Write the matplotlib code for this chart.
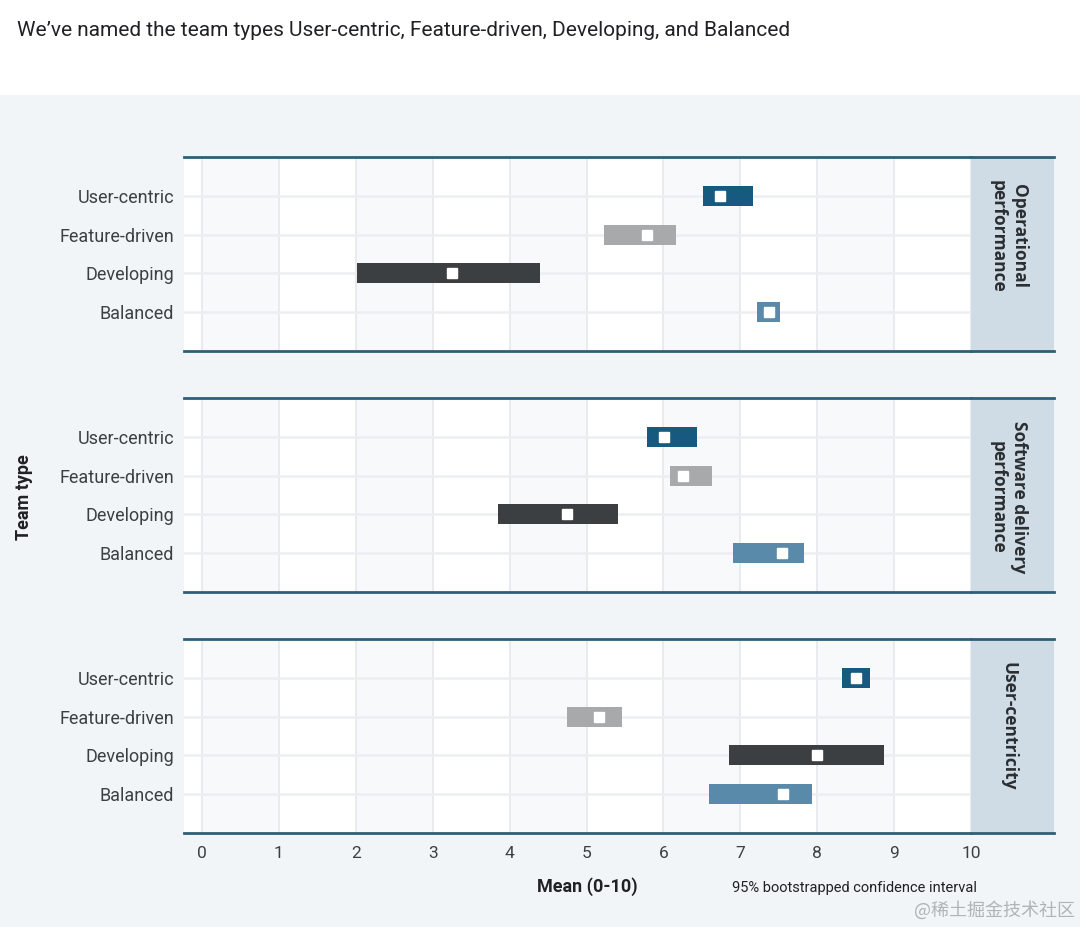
import matplotlib
matplotlib.use("Agg")
import matplotlib.pyplot as plt
from matplotlib.patches import Rectangle

plt.rcParams['font.family'] = ['Roboto', 'DejaVu Sans']

# ---- data ----
team_types = ["User-centric", "Feature-driven", "Developing", "Balanced"]
panels = ["Operational\nperformance", "Software delivery\nperformance", "User-centricity"]

op_low  = [6.51, 5.23, 2.01, 7.22]
op_high = [7.16, 6.16, 4.40, 7.52]
op_mean = [6.73, 5.79, 3.25, 7.37]

sd_low  = [5.79, 6.08, 3.85, 6.91]
sd_high = [6.44, 6.63, 5.41, 7.83]
sd_mean = [6.01, 6.26, 4.75, 7.54]

uc_low  = [8.32, 4.75, 6.85, 6.59]
uc_high = [8.69, 5.46, 8.87, 7.93]
uc_mean = [8.51, 5.16, 8.00, 7.55]

lows = [op_low, sd_low, uc_low]
highs = [op_high, sd_high, uc_high]
means = [op_mean, sd_mean, uc_mean]

x_ticks = list(range(0, 11))
colors = ["#175a80", "#a7a9ab", "#3c3f41", "#5a8aaa"]

W, H = 1080, 927
fig = plt.figure(figsize=(W / 100, H / 100), dpi=100)
fig.patch.set_facecolor("white")

# light background block
bg = fig.add_axes([0, 0, 1, 1 - 95 / H])
bg.set_facecolor("#f1f5f8")
bg.set_xticks([]); bg.set_yticks([])
for s in bg.spines.values():
    s.set_visible(False)
bg.set_zorder(-10)

fig.text(17 / W, 1 - 31 / H, "We\u2019ve named the team types User-centric, Feature-driven, Developing, and Balanced",
         fontsize=15, color="#202124", va="center", ha="left")

left_px, data_right_px, strip_right_px = 184, 971, 1054
panel_tops = [157, 398, 639]
panel_h = 194
spine_col = "#2f5f78"

for i in range(3):
    top = panel_tops[i]
    bottom_frac = 1 - (top + panel_h) / H
    ax = fig.add_axes([left_px / W, bottom_frac, (data_right_px - left_px) / W, panel_h / H])
    ax.set_xlim(-18 / 76.9, 10)
    ax.set_ylim(5, 0)
    ax.set_facecolor("white")
    # alternating column shading
    for c in range(0, 10, 2):
        ax.axvspan(c, c + 1, color="#f8f9fb", zorder=0, lw=0)
    for xv in x_ticks:
        ax.axvline(xv, color="#e6e8ec", lw=1.2, zorder=1)
    for yv in range(1, 5):
        ax.axhline(yv, color="#eceef1", lw=1.8, zorder=1)
    bar_h = 0.52
    for j, name in enumerate(team_types):
        y = j + 1
        ax.add_patch(Rectangle((lows[i][j], y - bar_h / 2), highs[i][j] - lows[i][j], bar_h,
                               facecolor=colors[j], edgecolor="none", zorder=3))
        ax.plot([means[i][j]], [y], marker="s", ms=7.2, mfc="white", mec="white", zorder=4)
    ax.set_yticks(range(1, 5))
    ax.set_yticklabels(team_types, fontsize=13, color="#3c4043")
    ax.tick_params(axis="y", length=0, pad=7)
    for s in ["left", "right"]:
        ax.spines[s].set_visible(False)
    for s in ["top", "bottom"]:
        ax.spines[s].set_color(spine_col)
        ax.spines[s].set_linewidth(2)
    if i == 2:
        ax.set_xticks(x_ticks)
        ax.set_xticklabels([str(t) for t in x_ticks], fontsize=12.5, color="#3c4043")
        ax.tick_params(axis="x", length=0, pad=9)
    else:
        ax.set_xticks([])

    # strip
    sax = fig.add_axes([data_right_px / W, bottom_frac, (strip_right_px - data_right_px) / W, panel_h / H])
    sax.set_facecolor("#cfdce6")
    sax.set_xticks([]); sax.set_yticks([])
    for s in ["left", "right"]:
        sax.spines[s].set_visible(False)
    for s in ["top", "bottom"]:
        sax.spines[s].set_color(spine_col)
        sax.spines[s].set_linewidth(2)
    sax.text(0.45, 1 - 23 / panel_h, panels[i], rotation=-90, ha="center", va="top", fontsize=12.5,
             fontweight="bold", color="#2b2e31", transform=sax.transAxes,
             linespacing=1.3, family=["Open Sans", "DejaVu Sans"])

fig.text(24 / W, 1 - 497 / H, "Team type", rotation=90, fontsize=13, fontweight="bold",
         color="#202124", ha="center", va="center")
fig.text(587 / W, 1 - 887 / H, "Mean (0-10)", fontsize=13, fontweight="bold",
         color="#202124", ha="center", va="center")
fig.text(732 / W, 1 - 888 / H, "95% bootstrapped confidence interval", fontsize=10.5,
         color="#202124", ha="left", va="center")
fig.text(1075 / W, 1 - 910 / H, "@稀土掘金技术社区", fontsize=13, color="#b0b4b8",
         ha="right", va="center", family=["Noto Sans CJK SC", "DejaVu Sans"])

fig.savefig("out.png", dpi=100, facecolor=fig.get_facecolor())
